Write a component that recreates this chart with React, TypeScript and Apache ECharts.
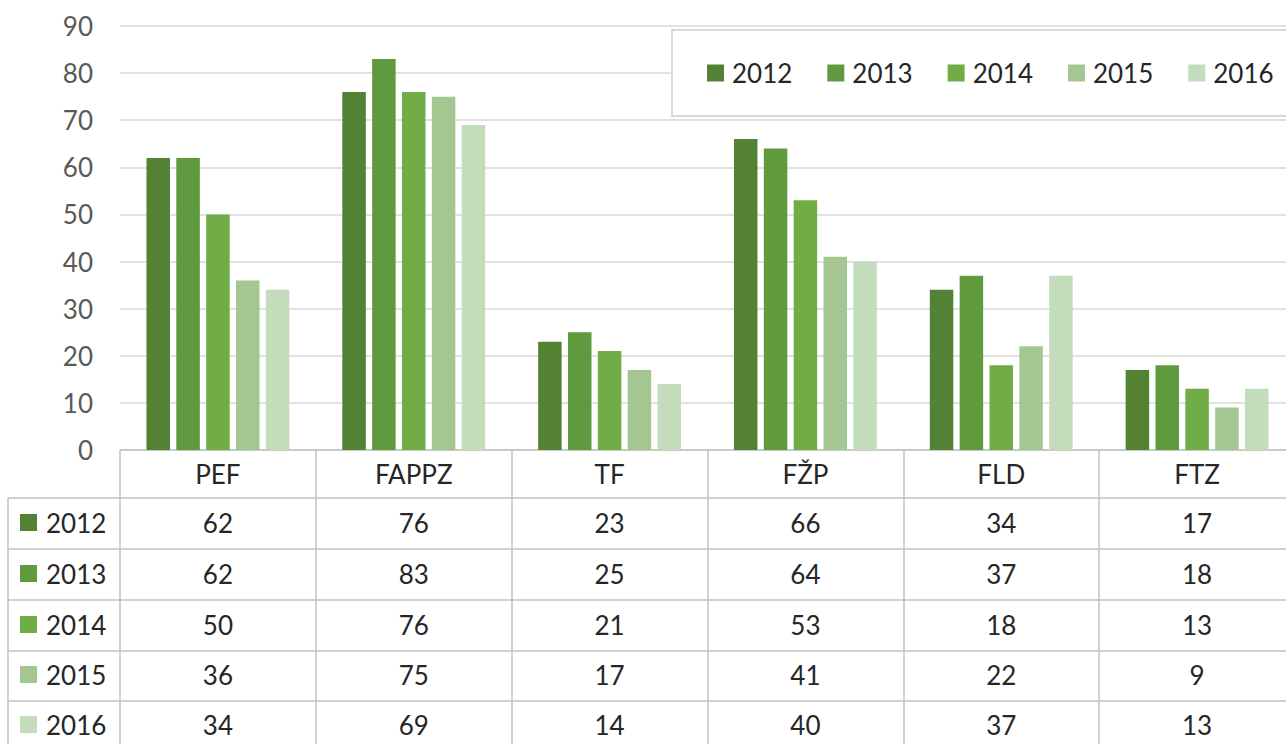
import React, { useEffect, useRef } from "react";
import * as echarts from "echarts";

const categories = ["PEF", "FAPPZ", "TF", "FŽP", "FLD", "FTZ"];
const years = ["2012", "2013", "2014", "2015", "2016"];
const v2012 = [62, 76, 23, 66, 34, 17];
const v2013 = [62, 83, 25, 64, 37, 18];
const v2014 = [50, 76, 21, 53, 18, 13];
const v2015 = [36, 75, 17, 41, 22, 9];
const v2016 = [34, 69, 14, 40, 37, 13];
const seriesValues = [v2012, v2013, v2014, v2015, v2016];
const colors = ["#548235", "#5f9a3f", "#70ad47", "#a4c690", "#c3dcbb"];

const FONT = "Lato, 'Open Sans', sans-serif";
const FS = 26;
const TXT = "#262626";
const LINE = "#c0c0c0";

const GRID_LEFT = 120;
const GRID_TOP = 26;
const GRID_H = 424;
const GRID_W = 1175;
const ROW_LINES = [498, 549, 600, 651, 701];
const ROW_CENTERS = [523, 574, 625, 675, 725];
const HEADER_CENTER = 474;

export default function App() {
  const ref = useRef<HTMLDivElement>(null);
  useEffect(() => {
    if (!ref.current) return;
    const chart = echarts.init(ref.current, undefined, { renderer: "svg" });
    const axisBottom = GRID_TOP + GRID_H;
    const margin = 11;

    const tableAxes = seriesValues.map((vals, k) => ({
      type: "category",
      data: categories,
      gridIndex: 0,
      position: "bottom",
      offset: ROW_CENTERS[k] - axisBottom - margin - FS / 2,
      axisLine: { show: false },
      axisTick: { show: false },
      splitLine: { show: false },
      axisLabel: {
        interval: 0,
        margin,
        fontFamily: FONT,
        fontSize: FS,
        color: TXT,
        formatter: (_v: string, i: number) => String(vals[i]),
      },
    }));

    const graphics: any[] = [];
    ROW_LINES.forEach((y) => {
      graphics.push({
        type: "line",
        shape: { x1: 8, y1: y, x2: 1300, y2: y },
        style: { stroke: LINE, lineWidth: 1.5 },
        silent: true,
      });
    });
    graphics.push({
      type: "line",
      shape: { x1: 8, y1: ROW_LINES[0], x2: 8, y2: 744 },
      style: { stroke: LINE, lineWidth: 1.5 },
    });
    years.forEach((yr, k) => {
      graphics.push({
        type: "rect",
        shape: { x: 20, y: ROW_CENTERS[k] - 9, width: 17, height: 17 },
        style: { fill: colors[k] },
      });
      graphics.push({
        type: "text",
        x: 46,
        y: ROW_CENTERS[k],
        style: {
          text: yr,
          fontFamily: FONT,
          fontSize: FS,
          fill: TXT,
          verticalAlign: "middle",
          textAlign: "left",
        },
      });
    });

    chart.setOption({
      animation: false,
      backgroundColor: "#ffffff",
      textStyle: { fontFamily: FONT },
      grid: {
        left: GRID_LEFT,
        top: GRID_TOP,
        width: GRID_W,
        height: GRID_H,
        containLabel: false,
        outerBoundsMode: "none",
      },
      legend: {
        data: years,
        left: 672,
        top: 30,
        width: 700,
        orient: "horizontal",
        icon: "rect",
        itemWidth: 17,
        itemHeight: 17,
        itemGap: 35,
        padding: [30, 40, 30, 35],
        backgroundColor: "#ffffff",
        borderColor: "#d9d9d9",
        borderWidth: 2,
        textStyle: { fontFamily: FONT, fontSize: FS, color: TXT, padding: [0, 0, 0, 3] },
        selectedMode: false,
      },
      xAxis: [
        {
          type: "category",
          data: categories,
          gridIndex: 0,
          position: "bottom",
          boundaryGap: true,
          axisLine: { show: true, lineStyle: { color: LINE, width: 1.5 } },
          axisTick: {
            show: true,
            length: 744 - axisBottom,
            lineStyle: { color: LINE, width: 1.5 },
          },
          axisLabel: {
            interval: 0,
            margin: HEADER_CENTER - axisBottom - FS / 2,
            fontFamily: FONT,
            fontSize: FS,
            color: TXT,
          },
        },
        ...tableAxes,
      ],
      yAxis: {
        type: "value",
        min: 0,
        max: 90,
        interval: 10,
        axisLine: { show: false },
        axisTick: { show: false },
        splitLine: { show: true, lineStyle: { color: "#d9d9d9", width: 1.5 } },
        axisLabel: {
          margin: 27,
          fontFamily: FONT,
          fontSize: FS,
          color: "#595959",
        },
      },
      series: seriesValues.map((vals, k) => ({
        name: years[k],
        type: "bar",
        xAxisIndex: 0,
        data: vals,
        barWidth: "12%",
        barGap: "27%",
        itemStyle: { color: colors[k] },
      })),
      graphic: graphics,
    });
    return () => chart.dispose();
  }, []);
  return (
    <div
      ref={ref}
      style={{ position: "absolute", left: 0, top: 0, width: 1286, height: 744 }}
    />
  );
}
